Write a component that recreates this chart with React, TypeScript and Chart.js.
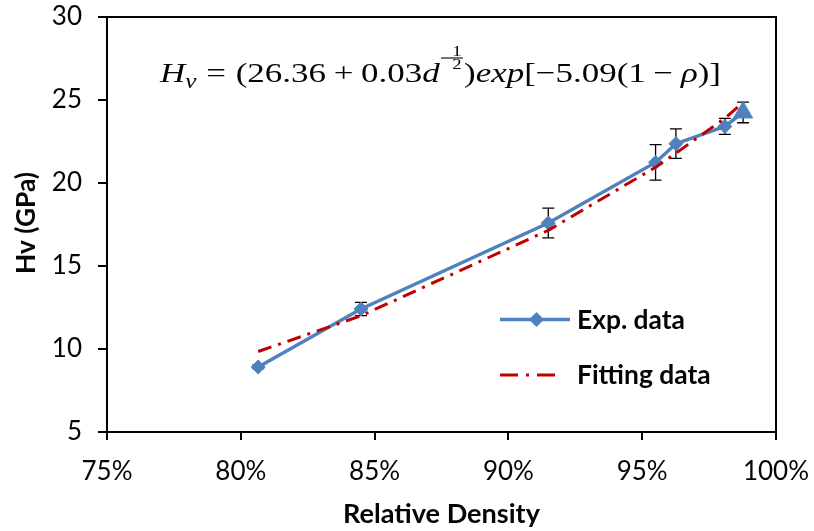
import React, { useEffect, useRef } from 'react';
import { Chart, registerables } from 'chart.js';

Chart.register(...registerables);

// ---- data ----
const densityPct = [80.65, 84.49, 91.49, 95.5, 96.26, 98.09, 98.77];
const expHv = [8.92, 12.41, 17.59, 21.24, 22.37, 23.41, 24.25];
const expErr = [0.1, 0.4, 0.9, 1.07, 0.89, 0.48, 0.62];
const fitHv = [9.85, 12.0, 17.15, 20.95, 21.8, 23.9, 24.85];
const xTickValues = [75, 80, 85, 90, 95, 100];
const yTickValues = [5, 10, 15, 20, 25, 30];
const seriesNames = ['Exp. data', 'Fitting data'];
const xTitle = 'Relative Density';
const yTitle = 'Hv (GPa)';

const BLUE = '#4F81BD';
const RED = '#C00000';
const TEXT = '#050505';

type Seg =
  | { t: 'txt'; s: string; it?: boolean; size?: number; dy?: number }
  | { t: 'gap'; em: number }
  | { t: 'frac' };

const eqSegs: Seg[] = [
  { t: 'txt', s: 'H', it: true },
  { t: 'txt', s: 'v', it: true, size: 0.72, dy: 6 },
  { t: 'gap', em: 0.28 },
  { t: 'txt', s: '=' },
  { t: 'gap', em: 0.28 },
  { t: 'txt', s: '(26.36' },
  { t: 'gap', em: 0.22 },
  { t: 'txt', s: '+' },
  { t: 'gap', em: 0.22 },
  { t: 'txt', s: '0.03' },
  { t: 'txt', s: 'd', it: true },
  { t: 'frac' },
  { t: 'txt', s: ')' },
  { t: 'txt', s: 'exp', it: true },
  { t: 'txt', s: '[\u22125.09(1' },
  { t: 'gap', em: 0.22 },
  { t: 'txt', s: '\u2212' },
  { t: 'gap', em: 0.22 },
  { t: 'txt', s: '\u03C1', it: true },
  { t: 'txt', s: ')]' },
];

const EQ_FONT = 'Liberation Serif';
const EQ_SIZE = 28;

function segWidth(ctx: CanvasRenderingContext2D, sg: Seg): number {
  if (sg.t === 'gap') return sg.em * EQ_SIZE;
  if (sg.t === 'frac') {
    ctx.font = `${15}px "${EQ_FONT}"`;
    return 10 + ctx.measureText('2').width + 2;
  }
  const sz = EQ_SIZE * (sg.size ?? 1);
  ctx.font = `${sg.it ? 'italic ' : ''}${sz}px "${EQ_FONT}"`;
  return ctx.measureText(sg.s).width;
}

function fitFont(ctx: CanvasRenderingContext2D, text: string, target: number, weight: string, family: string) {
  ctx.font = `${weight} 100px "${family}"`;
  const w = ctx.measureText(text).width;
  return (100 * target) / w;
}

const decorPlugin = {
  id: 'decor',
  beforeDatasetsDraw(chart: any) {
    const ctx: CanvasRenderingContext2D = chart.ctx;
    const xs = chart.scales.x;
    const ys = chart.scales.y;
    ctx.save();
    ctx.strokeStyle = '#000';
    ctx.lineWidth = 1.3;
    for (let i = 0; i < densityPct.length; i++) {
      const px = xs.getPixelForValue(densityPct[i]);
      const top = ys.getPixelForValue(expHv[i] + expErr[i]);
      const bot = ys.getPixelForValue(expHv[i] - expErr[i]);
      ctx.beginPath();
      ctx.moveTo(px, top);
      ctx.lineTo(px, bot);
      ctx.moveTo(px - 6, top);
      ctx.lineTo(px + 6, top);
      ctx.moveTo(px - 6, bot);
      ctx.lineTo(px + 6, bot);
      ctx.stroke();
    }
    ctx.restore();
  },
  afterDraw(chart: any) {
    const ctx: CanvasRenderingContext2D = chart.ctx;
    const a = chart.chartArea;
    ctx.save();
    // box border (top & right)
    ctx.strokeStyle = '#000';
    ctx.lineWidth = 2;
    ctx.beginPath();
    ctx.moveTo(a.left - 1, a.top);
    ctx.lineTo(a.right, a.top);
    ctx.lineTo(a.right, a.bottom);
    ctx.stroke();

    // legend
    const legX = 500;
    ctx.lineWidth = 3.5;
    ctx.strokeStyle = BLUE;
    ctx.beginPath();
    ctx.moveTo(legX, 319.5);
    ctx.lineTo(legX + 70, 319.5);
    ctx.stroke();
    ctx.fillStyle = BLUE;
    ctx.beginPath();
    ctx.moveTo(536.5 - 7.5, 319.5);
    ctx.lineTo(536.5, 312);
    ctx.lineTo(536.5 + 7.5, 319.5);
    ctx.lineTo(536.5, 327);
    ctx.closePath();
    ctx.fill();
    ctx.strokeStyle = RED;
    ctx.lineWidth = 3;
    ctx.setLineDash([18, 8, 3, 8]);
    ctx.beginPath();
    ctx.moveTo(legX, 375);
    ctx.lineTo(legX + 58, 375);
    ctx.stroke();
    ctx.setLineDash([]);

    const legSize = fitFont(ctx, seriesNames[0], 108, 'bold', 'Lato');
    ctx.font = `bold ${legSize}px "Lato"`;
    ctx.fillStyle = TEXT;
    ctx.textAlign = 'left';
    ctx.textBaseline = 'alphabetic';
    ctx.fillText(seriesNames[0], 577, 328.5);
    ctx.fillText(seriesNames[1], 577, 383.5);

    // axis titles
    const xtSize = fitFont(ctx, xTitle, 197, 'bold', 'Lato');
    ctx.font = `bold ${xtSize}px "Lato"`;
    ctx.textAlign = 'center';
    ctx.fillText(xTitle, (a.left + a.right) / 2, 522.5);

    const ytSize = fitFont(ctx, yTitle, 102, 'bold', 'Lato');
    ctx.save();
    ctx.translate(35, 223);
    ctx.rotate(-Math.PI / 2);
    ctx.font = `bold ${ytSize}px "Lato"`;
    ctx.textAlign = 'center';
    ctx.fillText(yTitle, 0, 0);
    ctx.restore();

    // equation
    let total = 0;
    for (const sg of eqSegs) total += segWidth(ctx, sg);
    const sx = 561 / total;
    ctx.save();
    ctx.translate(160, 82);
    ctx.scale(sx, 1);
    ctx.textAlign = 'left';
    ctx.fillStyle = TEXT;
    let cx = 0;
    for (const sg of eqSegs) {
      const w = segWidth(ctx, sg);
      if (sg.t === 'txt') {
        const sz = EQ_SIZE * (sg.size ?? 1);
        ctx.font = `${sg.it ? 'italic ' : ''}${sz}px "${EQ_FONT}"`;
        ctx.fillText(sg.s, cx, sg.dy ?? 0);
      } else if (sg.t === 'frac') {
        ctx.strokeStyle = TEXT;
        ctx.lineWidth = 1.1;
        ctx.beginPath();
        ctx.moveTo(cx + 1, -24);
        ctx.lineTo(cx + w - 1, -24);
        ctx.stroke();
        ctx.font = `15px "${EQ_FONT}"`;
        ctx.textAlign = 'center';
        const fx = cx + 10 + ctx.measureText('2').width / 2;
        ctx.fillText('1', fx, -26);
        ctx.fillText('2', fx, -13);
        ctx.textAlign = 'left';
      }
      cx += w;
    }
    ctx.restore();
    ctx.restore();
  },
};

export default function App() {
  const ref = useRef<HTMLCanvasElement>(null);
  useEffect(() => {
    if (!ref.current) return;
    const expPts = densityPct.map((x, i) => ({ x, y: expHv[i] }));
    const fitPts = densityPct.map((x, i) => ({ x, y: fitHv[i] }));
    const pointStyles = densityPct.map((_, i) => (i === densityPct.length - 1 ? 'triangle' : 'rectRot'));
    const pointRadii = densityPct.map((_, i) => (i === densityPct.length - 1 ? 11 : 7));
    const chart = new Chart(ref.current, {
      type: 'line',
      data: {
        datasets: [
          {
            label: seriesNames[0],
            data: expPts,
            borderColor: BLUE,
            backgroundColor: BLUE,
            borderWidth: 3.5,
            pointStyle: pointStyles as any,
            pointRadius: pointRadii,
            pointBackgroundColor: BLUE,
            pointBorderColor: BLUE,
            pointBorderWidth: 1,
            tension: 0,
            order: 1,
          },
          {
            label: seriesNames[1],
            data: fitPts,
            borderColor: RED,
            borderWidth: 3,
            borderDash: [14, 7, 3, 7],
            pointRadius: 0,
            tension: 0,
            order: 0,
          },
        ],
      },
      options: {
        animation: false,
        responsive: true,
        maintainAspectRatio: false,
        layout: { padding: { top: 17, right: 38, left: 0, bottom: 0 } },
        plugins: { legend: { display: false }, tooltip: { enabled: false } },
        scales: {
          x: {
            type: 'linear',
            min: 75,
            max: 100,
            afterBuildTicks: (s: any) => {
              s.ticks = xTickValues.map((v) => ({ value: v }));
            },
            afterFit: (s: any) => {
              s.height = 99;
              s.paddingLeft = 0;
              s.paddingRight = 0;
            },
            ticks: {
              font: { family: 'Lato', size: 26 },
              color: TEXT,
              padding: 16,
              maxRotation: 0,
              callback: (v: any) => `${v}%`,
            },
            grid: { display: true, drawOnChartArea: false, drawTicks: true, tickLength: 8, color: '#000', lineWidth: 2 },
            border: { display: true, color: '#000', width: 2 },
          },
          y: {
            type: 'linear',
            min: 5,
            max: 30,
            afterBuildTicks: (s: any) => {
              s.ticks = yTickValues.map((v) => ({ value: v }));
            },
            afterFit: (s: any) => {
              s.width = 107;
              s.paddingTop = 0;
              s.paddingBottom = 0;
            },
            ticks: {
              font: { family: 'Lato', size: 26 },
              color: TEXT,
              padding: 16,
            },
            grid: { display: true, drawOnChartArea: false, drawTicks: true, tickLength: 9, color: '#000', lineWidth: 2 },
            border: { display: true, color: '#000', width: 2 },
          },
        },
      },
      plugins: [decorPlugin],
    });
    return () => chart.destroy();
  }, []);
  return (
    <div style={{ position: 'absolute', left: 0, top: 0, width: 814, height: 531, background: '#fff' }}>
      <canvas ref={ref} />
    </div>
  );
}
